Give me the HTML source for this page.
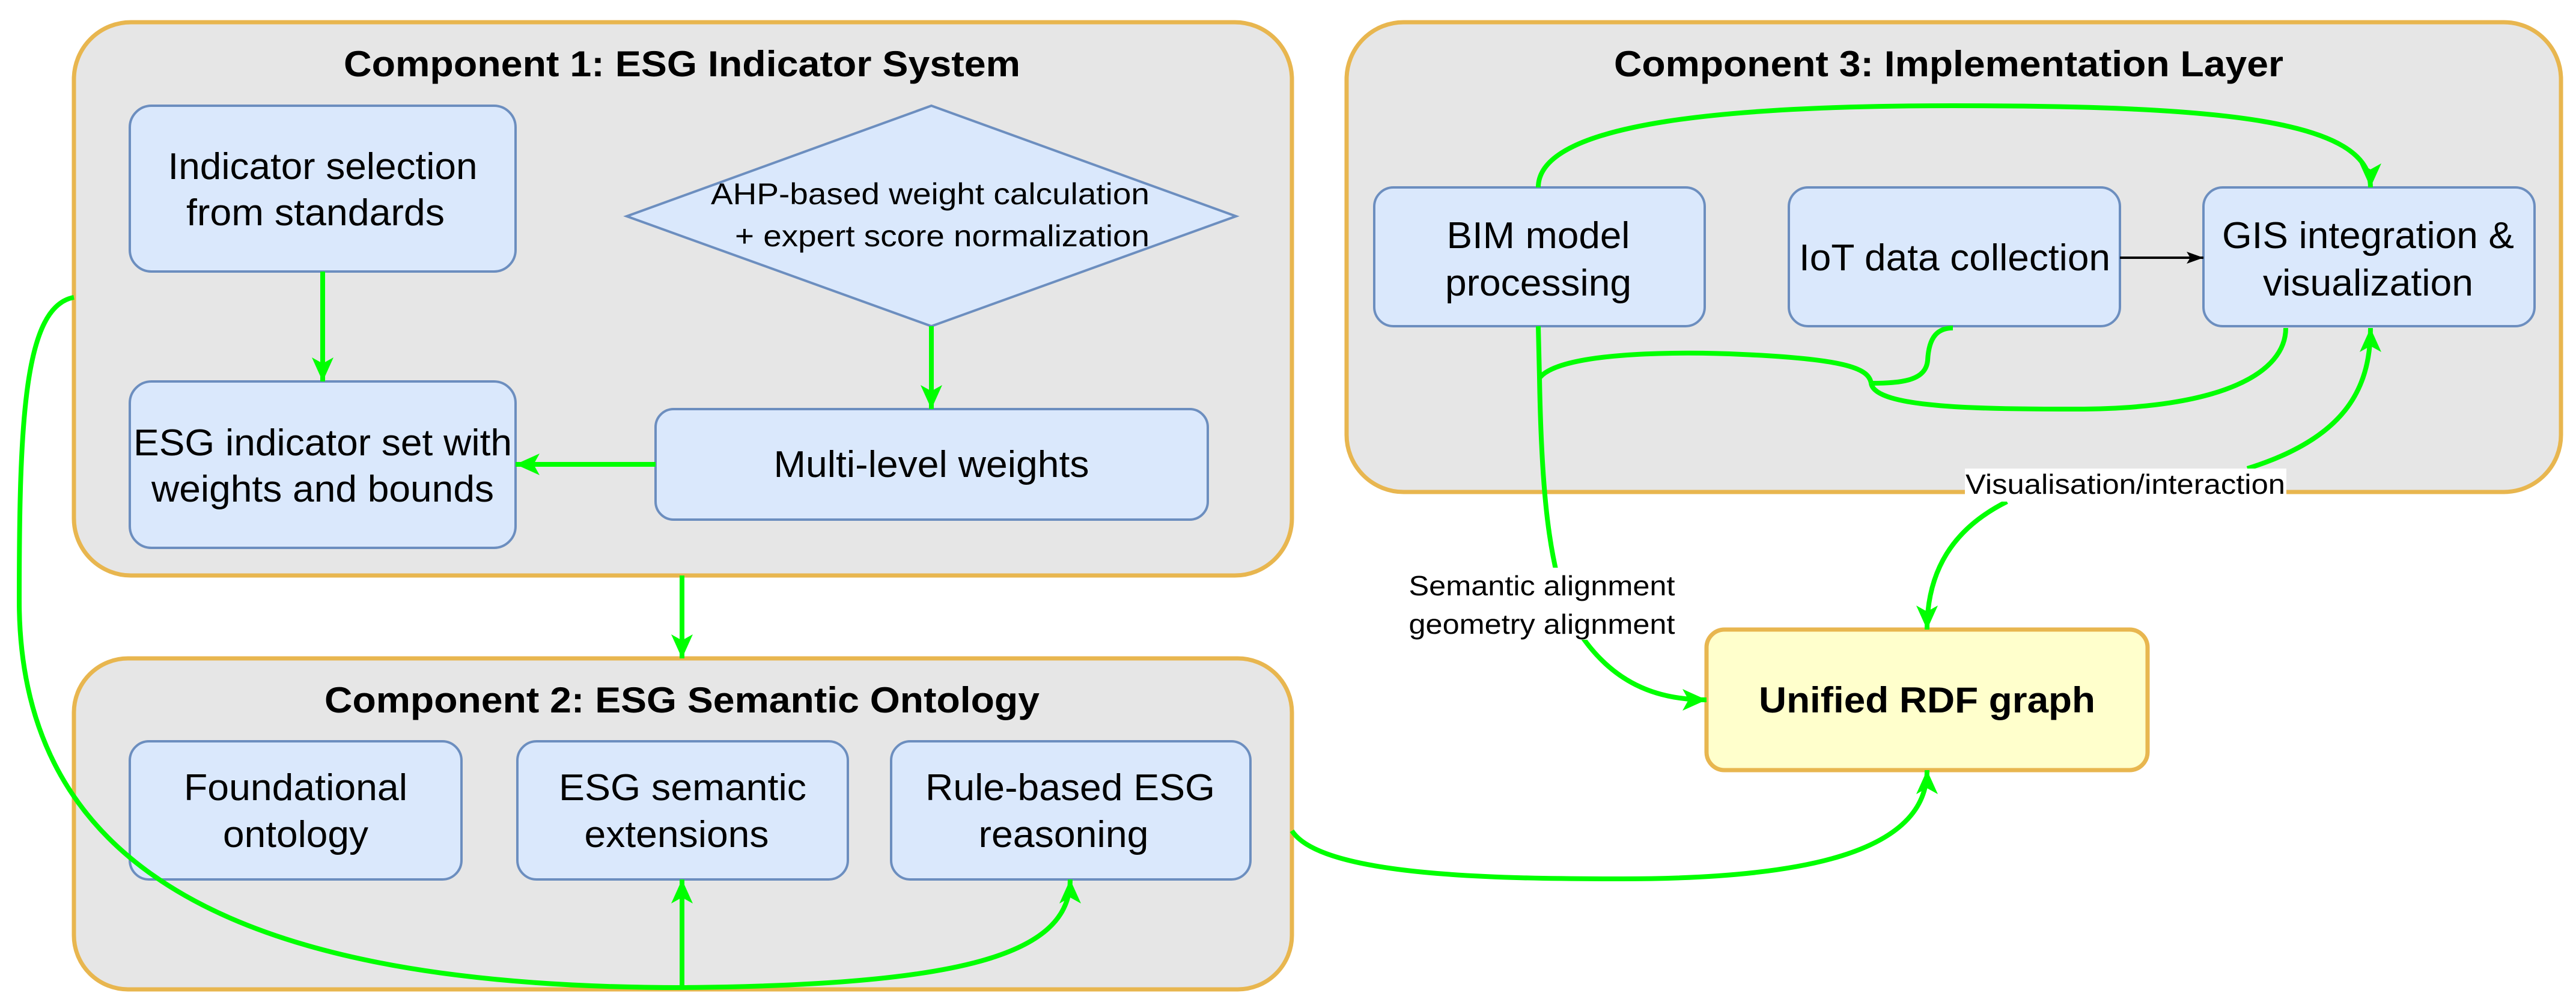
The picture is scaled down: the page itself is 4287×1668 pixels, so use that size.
<!DOCTYPE html>
<html><head><meta charset="utf-8"><style>
html,body{margin:0;padding:0;background:#fff;}
svg{display:block;}
text{font-family:"Liberation Sans",Arial,sans-serif;fill:#000;}
.t{font-size:60px;font-weight:bold;}
.b{font-size:62px;}
.l{font-size:46px;}
</style></head><body>
<svg width="4287" height="1668" viewBox="0 0 4287 1668" xmlns="http://www.w3.org/2000/svg">
<defs>
<marker id="g" markerUnits="userSpaceOnUse" markerWidth="46" markerHeight="46" refX="40" refY="20" orient="auto">
<path d="M0,2 L40,20 L0,38 L10,20 Z" fill="#00ff00"/>
</marker>
<marker id="k" markerUnits="userSpaceOnUse" markerWidth="30" markerHeight="30" refX="28" refY="12" orient="auto">
<path d="M0,2 L28,12 L0,22 L6,12 Z" fill="#000"/>
</marker>
</defs>

<!-- Containers -->
<rect x="123" y="37" width="2027" height="921" rx="95" fill="#e6e6e6" stroke="#e8b64f" stroke-width="7"/>
<rect x="123" y="1096" width="2027" height="551" rx="90" fill="#e6e6e6" stroke="#e8b64f" stroke-width="7"/>
<rect x="2241" y="37" width="2021" height="782" rx="95" fill="#e6e6e6" stroke="#e8b64f" stroke-width="7"/>

<text class="t" x="1135" y="127" text-anchor="middle" textLength="1126" lengthAdjust="spacingAndGlyphs">Component 1: ESG Indicator System</text>
<text class="t" x="1135" y="1186" text-anchor="middle" textLength="1190" lengthAdjust="spacingAndGlyphs">Component 2: ESG Semantic Ontology</text>
<text class="t" x="3243" y="127" text-anchor="middle" textLength="1114" lengthAdjust="spacingAndGlyphs">Component 3: Implementation Layer</text>

<!-- Comp1 nodes -->
<rect x="216" y="176" width="642" height="276" rx="36" fill="#dae8fc" stroke="#6c8ebf" stroke-width="4"/>
<text class="b" x="537" y="298" text-anchor="middle" textLength="515" lengthAdjust="spacingAndGlyphs">Indicator selection</text>
<text class="b" x="525" y="375" text-anchor="middle" textLength="430" lengthAdjust="spacingAndGlyphs">from standards</text>

<rect x="216" y="635" width="642" height="277" rx="36" fill="#dae8fc" stroke="#6c8ebf" stroke-width="4"/>
<text class="b" x="537" y="758" text-anchor="middle" textLength="630" lengthAdjust="spacingAndGlyphs">ESG indicator set with</text>
<text class="b" x="537" y="835" text-anchor="middle" textLength="570" lengthAdjust="spacingAndGlyphs">weights and bounds</text>

<polygon points="1550,176 2057,360 1550,543 1043,360" fill="#dae8fc" stroke="#6c8ebf" stroke-width="4"/>
<text class="l" x="1548" y="340" text-anchor="middle" font-size="50" textLength="730" lengthAdjust="spacingAndGlyphs" style="font-size:50px">AHP-based weight calculation</text>
<text class="l" x="1568" y="410" text-anchor="middle" textLength="690" lengthAdjust="spacingAndGlyphs" style="font-size:50px">+ expert score normalization</text>

<rect x="1091" y="681" width="919" height="184" rx="30" fill="#dae8fc" stroke="#6c8ebf" stroke-width="4"/>
<text class="b" x="1550" y="794" text-anchor="middle" textLength="525" lengthAdjust="spacingAndGlyphs">Multi-level weights</text>

<!-- Comp2 nodes -->
<rect x="216" y="1234" width="552" height="230" rx="32" fill="#dae8fc" stroke="#6c8ebf" stroke-width="4"/>
<text class="b" x="492" y="1332" text-anchor="middle" textLength="372" lengthAdjust="spacingAndGlyphs">Foundational</text>
<text class="b" x="492" y="1410" text-anchor="middle" textLength="242" lengthAdjust="spacingAndGlyphs">ontology</text>
<rect x="861" y="1234" width="550" height="230" rx="32" fill="#dae8fc" stroke="#6c8ebf" stroke-width="4"/>
<text class="b" x="1136" y="1332" text-anchor="middle" textLength="412" lengthAdjust="spacingAndGlyphs">ESG semantic</text>
<text class="b" x="1126" y="1410" text-anchor="middle" textLength="307" lengthAdjust="spacingAndGlyphs">extensions</text>
<rect x="1483" y="1234" width="598" height="230" rx="32" fill="#dae8fc" stroke="#6c8ebf" stroke-width="4"/>
<text class="b" x="1781" y="1332" text-anchor="middle" textLength="482" lengthAdjust="spacingAndGlyphs">Rule-based ESG</text>
<text class="b" x="1770" y="1410" text-anchor="middle" textLength="283" lengthAdjust="spacingAndGlyphs">reasoning</text>

<!-- Comp3 nodes -->
<rect x="2287" y="312" width="550" height="231" rx="32" fill="#dae8fc" stroke="#6c8ebf" stroke-width="4"/>
<text class="b" x="2560" y="413" text-anchor="middle" textLength="305" lengthAdjust="spacingAndGlyphs">BIM model</text>
<text class="b" x="2560" y="492" text-anchor="middle" textLength="310" lengthAdjust="spacingAndGlyphs">processing</text>
<rect x="2977" y="312" width="551" height="231" rx="32" fill="#dae8fc" stroke="#6c8ebf" stroke-width="4"/>
<text class="b" x="3253" y="450" text-anchor="middle" textLength="518" lengthAdjust="spacingAndGlyphs">IoT data collection</text>
<rect x="3667" y="312" width="551" height="231" rx="32" fill="#dae8fc" stroke="#6c8ebf" stroke-width="4"/>
<text class="b" x="3941" y="413" text-anchor="middle" textLength="486" lengthAdjust="spacingAndGlyphs">GIS integration &amp;</text>
<text class="b" x="3941" y="492" text-anchor="middle" textLength="350" lengthAdjust="spacingAndGlyphs">visualization</text>

<!-- RDF -->
<rect x="2840" y="1048" width="734" height="234" rx="30" fill="#ffffcc" stroke="#e8b64f" stroke-width="7"/>
<text class="t" x="3207" y="1186" text-anchor="middle" textLength="560" lengthAdjust="spacingAndGlyphs">Unified RDF graph</text>

<!-- Connectors -->
<g fill="none" stroke="#00ff00" stroke-width="8">
<path d="M537,452 L537,635" marker-end="url(#g)"/>
<path d="M1550,543 L1550,681" marker-end="url(#g)"/>
<path d="M1091,773 L858,773" marker-end="url(#g)"/>
<path d="M1135,958 L1135,1096" marker-end="url(#g)"/>
<path d="M123,495 C40,510 32,700 32,1000 C32,1450 400,1644 1135,1644"/>
<path d="M1135,1644 L1135,1464" marker-end="url(#g)"/>
<path d="M1135,1644 C1600,1640 1781,1590 1781,1464" marker-end="url(#g)"/>
<path d="M2560,312 C2560,200 2900,176 3250,176 C3700,176 3945,200 3945,312" marker-end="url(#g)"/>
<path d="M2560,543 L2562,628 C2565,800 2575,950 2620,1040 C2680,1140 2760,1165 2840,1165" marker-end="url(#g)"/>
<path d="M2563,628 C2600,585 2800,585 2900,590 C3080,598 3110,615 3114,638"/>
<path d="M3114,638 C3170,638 3205,632 3208,600 C3210,560 3225,546 3250,546"/>
<path d="M3114,638 C3120,680 3300,681 3455,681 C3700,681 3804,620 3804,546"/>
<path d="M3740,780 C3900,730 3945,650 3945,546" marker-end="url(#g)"/>
<path d="M3340,835 C3250,880 3207,950 3207,1048" marker-end="url(#g)"/>
<path d="M2150,1383 C2200,1460 2500,1463 2700,1463 C3000,1463 3207,1420 3207,1282" marker-end="url(#g)"/>
</g>
<path d="M3528,429 L3667,429" stroke="#000" stroke-width="4" fill="none" marker-end="url(#k)"/>

<!-- Labels -->
<rect x="3270" y="780" width="535" height="55" fill="#fff"/>
<text class="l" x="3537" y="822" text-anchor="middle" textLength="532" lengthAdjust="spacingAndGlyphs">Visualisation/interaction</text>
<rect x="2343" y="945" width="447" height="120" fill="#fff"/>
<text class="l" x="2566" y="991" text-anchor="middle" textLength="443" lengthAdjust="spacingAndGlyphs">Semantic alignment</text>
<text class="l" x="2566" y="1055" text-anchor="middle" textLength="443" lengthAdjust="spacingAndGlyphs">geometry alignment</text>
</svg>
</body></html>
